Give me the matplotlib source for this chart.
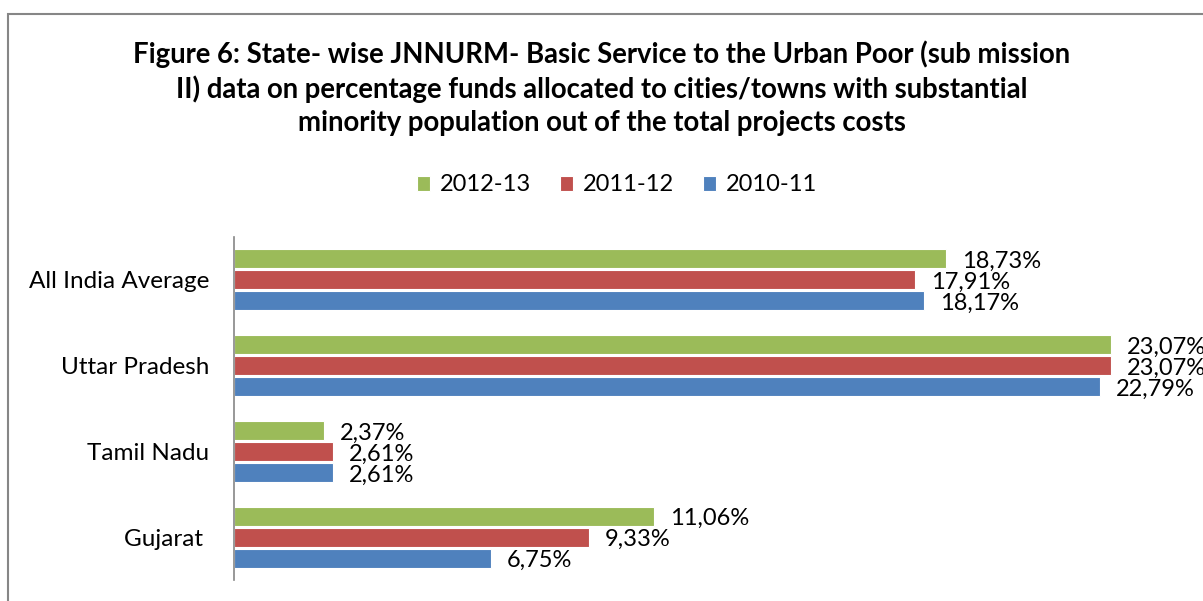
import numpy as np
import matplotlib.pyplot as plt
from matplotlib.patches import Rectangle

plt.rcParams['font.family'] = ['Lato', 'DejaVu Sans']

states = ["All India Average", "Uttar Pradesh", "Tamil Nadu", "Gujarat "]
years = ["2012-13", "2011-12", "2010-11"]
v_2012_13 = [18.73, 23.07, 2.37, 11.06]
v_2011_12 = [17.91, 23.07, 2.61, 9.33]
v_2010_11 = [18.17, 22.79, 2.61, 6.75]
colors = ["#9BBB59", "#C0504D", "#4F81BD"]

title = ("Figure 6: State- wise JNNURM- Basic Service to the Urban Poor (sub mission\n"
         "II) data on percentage funds allocated to cities/towns with substantial\n"
         "minority population out of the total projects costs")

fig = plt.figure(figsize=(12.03, 6.01), dpi=100)
ax = fig.add_axes([234/1203, 1-580/601, (1184-234)/1203, (580-237)/601])

y = np.arange(len(states))
series = [v_2012_13, v_2011_12, v_2010_11]
offsets = [-0.245, 0, 0.245]
for vals, col, off, lab in zip(series, colors, offsets, years):
    bars = ax.barh(y + off, vals, height=0.22, color=col, edgecolor="white",
                   linewidth=0.8, label=lab)
    for b, v in zip(bars, vals):
        # labels run past the right edge like in the source image
        ax.text(v + 0.42, b.get_y() + b.get_height()/2 + 0.03,
                ("%.2f%%" % v).replace(".", ","), fontsize=17,
                va="center", ha="left", clip_on=False)

ax.set_ylim(3.5, -0.5)
ax.set_xlim(0, 25)
ax.set_yticks(y)
ax.set_yticklabels(states, fontsize=17.5)
ax.tick_params(axis="y", length=0, pad=18)
ax.set_xticks([])
for s in ["top", "right", "bottom"]:
    ax.spines[s].set_visible(False)
ax.spines["left"].set_color("#868686")
ax.spines["left"].set_linewidth(1.2)

fig.text(602/1203, 1-88/601, title, ha="center", va="center",
         fontsize=19.8, fontweight="bold", linespacing=1.32)

handles, labels = ax.get_legend_handles_labels()
fig.legend(handles, labels, loc="center", bbox_to_anchor=(617/1203, 1-185/601),
           ncol=3, frameon=False, fontsize=17, handlelength=0.55,
           handleheight=0.6, handletextpad=0.4, columnspacing=1.25)

fig.add_artist(Rectangle((8/1203, -0.1), 1.2, 1.1 - 14/601,
                         transform=fig.transFigure, fill=False,
                         edgecolor="#868686", linewidth=1.5))

fig.savefig("out.png", dpi=100)
